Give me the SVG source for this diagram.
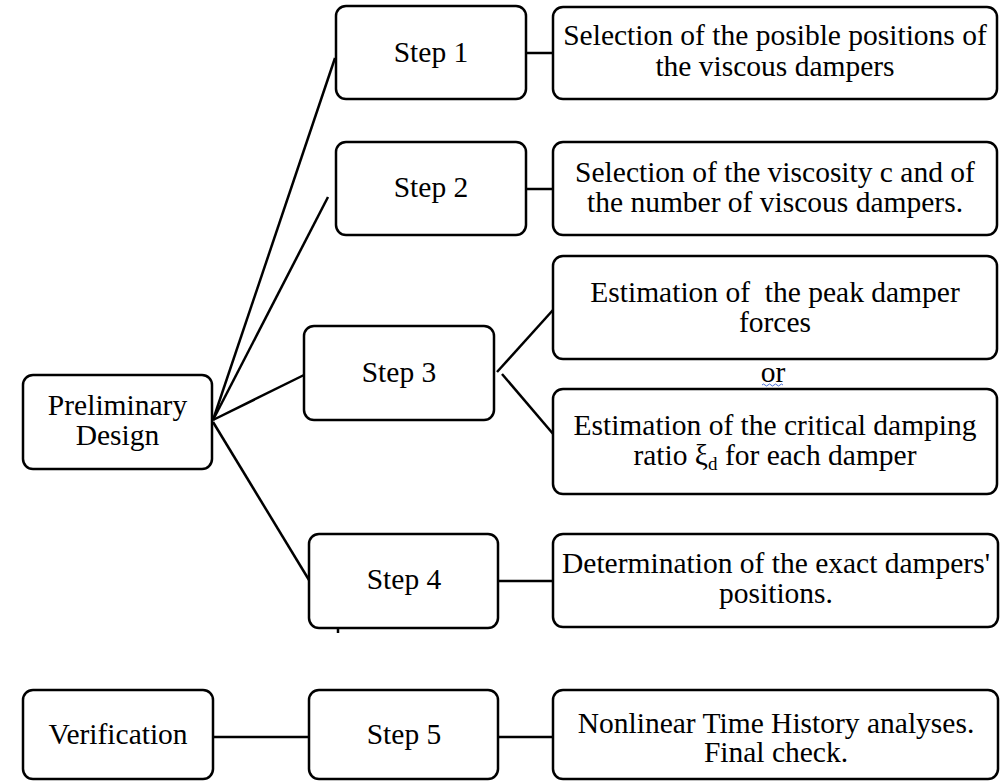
<svg xmlns="http://www.w3.org/2000/svg" width="1005" height="781" viewBox="0 0 1005 781">
<style>
.box{fill:#fff;stroke:#000;stroke-width:2.5}
.t{font-family:'Liberation Serif',Tinos,'Times New Roman',Times,'DejaVu Serif',serif;font-size:29.5px;fill:#000;text-anchor:middle}
.c{stroke:#000;stroke-width:2.5;fill:none}
</style>
<rect width="1005" height="781" fill="#fff"/>
<g id="connectors">
<line class="c" x1="213" y1="420" x2="335" y2="58"/>
<line class="c" x1="213" y1="420" x2="328" y2="197"/>
<line class="c" x1="213" y1="420" x2="304" y2="375"/>
<line class="c" x1="213" y1="422" x2="309" y2="580"/>
<line class="c" x1="526" y1="53" x2="553" y2="53"/>
<line class="c" x1="526" y1="189" x2="553" y2="189"/>
<line class="c" x1="497" y1="372" x2="553" y2="310"/>
<line class="c" x1="502" y1="374" x2="560" y2="442"/>
<line class="c" x1="498" y1="581" x2="553" y2="581"/>
<line class="c" x1="213" y1="737" x2="309" y2="737"/>
<line class="c" x1="498" y1="737" x2="553" y2="737"/>
<line class="c" x1="338" y1="628" x2="338" y2="633" stroke-width="1.5"/>
</g>
<g id="prelim">
<rect class="box" x="23" y="375" width="189" height="94" rx="10"/>
<text class="t" x="117.5" y="415">Preliminary</text>
<text class="t" x="117.5" y="445">Design</text>
</g>
<g id="step1">
<rect class="box" x="336" y="6" width="190" height="93" rx="10"/>
<text class="t" x="431" y="62">Step 1</text>
</g>
<g id="desc1">
<rect class="box" x="553" y="7" width="444" height="92" rx="10"/>
<text class="t" x="775" y="45">Selection of the posible positions of</text>
<text class="t" x="775" y="76">the viscous dampers</text>
</g>
<g id="step2">
<rect class="box" x="336" y="142" width="190" height="93" rx="10"/>
<text class="t" x="431" y="197">Step 2</text>
</g>
<g id="desc2">
<rect class="box" x="553" y="142" width="444" height="93" rx="10"/>
<text class="t" x="775" y="182">Selection of the viscosity c and of</text>
<text class="t" x="775" y="212">the number of viscous dampers.</text>
</g>
<g id="step3">
<rect class="box" x="304" y="326" width="190" height="94" rx="10"/>
<text class="t" x="399" y="382">Step 3</text>
</g>
<g id="desc3a">
<rect class="box" x="553" y="256" width="444" height="103" rx="10"/>
<text class="t" x="775" y="302" xml:space="preserve">Estimation of  the peak damper</text>
<text class="t" x="775" y="332">forces</text>
</g>
<g id="or">
<text class="t" x="773" y="382">or</text>
<path d="M762 385 q1.5 -2 3 0 t3 0 t3 0 t3 0 t3 0 t3 0 t3 0" fill="none" stroke="#4a6fd8" stroke-width="1"/>
</g>
<g id="desc3b">
<rect class="box" x="553" y="389" width="444" height="105" rx="10"/>
<text class="t" x="775" y="435">Estimation of the critical damping</text>
<text class="t" x="775" y="465">ratio ξ<tspan font-size="19" dy="5">d</tspan><tspan dy="-5"> for each damper</tspan></text>
</g>
<g id="step4">
<rect class="box" x="309" y="534" width="189" height="94" rx="10"/>
<text class="t" x="404" y="589">Step 4</text>
</g>
<g id="desc4">
<rect class="box" x="553" y="534" width="445" height="93" rx="10"/>
<text class="t" x="776" y="573">Determination of the exact dampers'</text>
<text class="t" x="776" y="603">positions.</text>
</g>
<g id="verif">
<rect class="box" x="23" y="690" width="190" height="89" rx="10"/>
<text class="t" x="118" y="744">Verification</text>
</g>
<g id="step5">
<rect class="box" x="309" y="690" width="189" height="89" rx="10"/>
<text class="t" x="404" y="744">Step 5</text>
</g>
<g id="desc5">
<rect class="box" x="553" y="690" width="445" height="89" rx="10"/>
<text class="t" x="776" y="733">Nonlinear Time History analyses.</text>
<text class="t" x="776" y="762">Final check.</text>
</g>
</svg>
